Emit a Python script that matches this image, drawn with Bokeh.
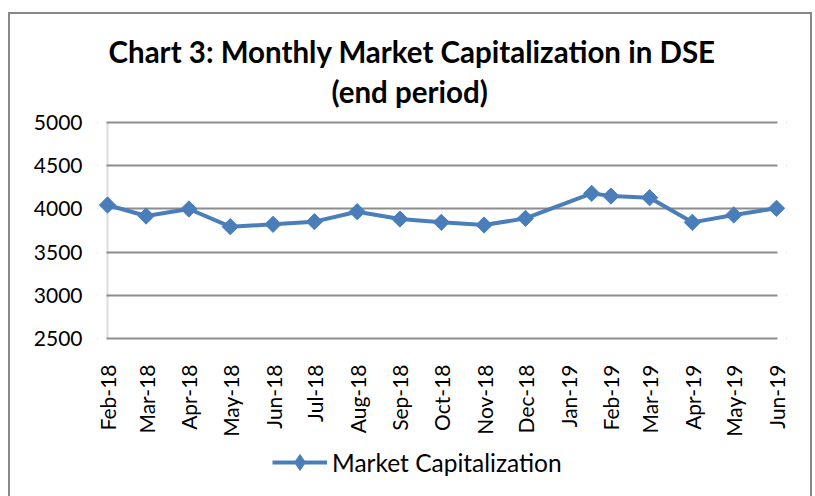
from math import pi
import pandas as pd
from bokeh.plotting import figure
from bokeh.models import (ColumnDataSource, Range1d, FixedTicker, Legend, LegendItem,
                          Title, BoxAnnotation)
from bokeh.embed import file_html
from bokeh.resources import INLINE

# ---------------- data ----------------
period_end = ["2018-02-01", "2018-03-01", "2018-04-01", "2018-05-01", "2018-06-01",
              "2018-07-01", "2018-08-01", "2018-09-01", "2018-10-01", "2018-11-01",
              "2018-12-01", "2019-01-18", "2019-02-01", "2019-03-01", "2019-04-01",
              "2019-05-01", "2019-06-01"]
market_cap = [4044, 3917, 3998, 3794, 3821, 3852, 3967, 3882, 3844, 3813,
              3890, 4178, 4147, 4128, 3844, 3929, 4006]
tick_dates = ["2018-02-01", "2018-03-01", "2018-04-01", "2018-05-01", "2018-06-01",
              "2018-07-01", "2018-08-01", "2018-09-01", "2018-10-01", "2018-11-01",
              "2018-12-01", "2019-01-01", "2019-02-01", "2019-03-01", "2019-04-01",
              "2019-05-01", "2019-06-01"]
tick_labels = ["Feb-18", "Mar-18", "Apr-18", "May-18", "Jun-18", "Jul-18", "Aug-18",
               "Sep-18", "Oct-18", "Nov-18", "Dec-18", "Jan-19", "Feb-19", "Mar-19",
               "Apr-19", "May-19", "Jun-19"]
y_ticks = [2500, 3000, 3500, 4000, 4500, 5000]
series_name = "Market Capitalization"
title_line1 = "Chart 3: Monthly Market Capitalization in DSE"
title_line2 = "(end  period)"

# ---------------- derived ----------------
origin = pd.Timestamp(tick_dates[0])
x_days = [(pd.Timestamp(d) - origin).days for d in period_end]
tick_pos = [(pd.Timestamp(d) - origin).days for d in tick_dates]
x_first, x_last = tick_pos[0], tick_pos[-1]
y_min, y_max = y_ticks[0], y_ticks[-1]

FONT = "Lato"
BLUE = "#4A7EBB"
GRID = "#8C8C8C"

W, H = 815, 496
FL, FR, FT, FB = 97, 786, 119, 486          # frame edges (px)
DL, DR = 107, 776                            # data x span (px)
DT, DB = 121.6, 338.4                        # data y span (px)
px_per_day = (DR - DL) / (x_last - x_first)
x_start = x_first - (DL - FL) / px_per_day
x_end = x_last + (FR - DR) / px_per_day
px_per_unit = (DB - DT) / (y_max - y_min)
y_hi = y_max + (DT - FT) / px_per_unit
y_lo = y_min - (FB - DB) / px_per_unit

border_css = ("linear-gradient(#888,#888) 8px 12px / 2px 800px no-repeat, "
              "linear-gradient(#888,#888) 8px 12px / 804px 2px no-repeat, "
              "linear-gradient(#888,#888) 810px 12px / 2px 800px no-repeat, white")

p = figure(width=W, height=H, output_backend="svg", toolbar_location=None, tools="",
           x_range=Range1d(x_start, x_end), y_range=Range1d(y_lo, y_hi),
           min_border_left=FL, min_border_right=W - FR,
           min_border_top=FT, min_border_bottom=H - FB,
           title=title_line1, styles={"background": border_css})
p.outline_line_color = None
p.background_fill_color = "white"
p.border_fill_alpha = 0

# titles
p.title.align = "left"
p.title.offset = 11
p.title.standoff = -16
p.title.text_font = FONT
p.title.text_font_style = "bold"
p.title.text_font_size = "29.5px"
p.title.text_color = "black"
p.add_layout(Title(text=title_line2, align="left", offset=234, standoff=22,
                   text_font=FONT, text_font_style="bold", text_font_size="29.5px",
                   text_color="black"), "above")

# grid
p.xgrid.visible = False
p.ygrid.ticker = FixedTicker(ticks=y_ticks)
p.ygrid.grid_line_color = GRID
p.ygrid.grid_line_width = 2

# cover grid overhang outside the data span
p.add_layout(BoxAnnotation(right=x_first - 0.7, fill_color="white", fill_alpha=1,
                           line_alpha=0, level="underlay"))
p.add_layout(BoxAnnotation(left=x_last + 0.7, fill_color="white", fill_alpha=1,
                           line_alpha=0, level="underlay"))
# vertical axis line at the first date, spanning the value range
p.add_layout(BoxAnnotation(left=x_first, right=x_first, bottom=y_min, top=y_max,
                           fill_alpha=0, line_color=GRID, line_width=2,
                           level="underlay"))

# y axis labels
p.yaxis.ticker = FixedTicker(ticks=y_ticks)
p.yaxis.axis_line_color = None
p.yaxis.major_tick_line_color = None
p.yaxis.minor_tick_line_color = None
p.yaxis.major_tick_out = 0
p.yaxis.major_tick_in = 0
p.yaxis.major_label_standoff = 15
p.yaxis.major_label_text_font = FONT
p.yaxis.major_label_text_font_size = "21px"
p.yaxis.major_label_text_color = "black"

# x axis: labels hang below the 2500 line
p.xaxis.ticker = FixedTicker(ticks=tick_pos)
p.xaxis.major_label_overrides = {float(t): l for t, l in zip(tick_pos, tick_labels)}
p.xaxis.major_label_orientation = pi / 2
p.xaxis.axis_line_color = None
p.xaxis.major_tick_line_color = None
p.xaxis.minor_tick_line_color = None
p.xaxis.major_tick_out = 0
p.xaxis.major_tick_in = 0
p.xaxis.major_label_standoff = int(364 - FB)
p.xaxis.major_label_text_font = FONT
p.xaxis.major_label_text_font_size = "21px"
p.xaxis.major_label_text_color = "black"

# data
src = ColumnDataSource(dict(x=x_days, y=market_cap))
line_r = p.line("x", "y", source=src, line_color=BLUE, line_width=4)
mark_r = p.scatter("x", "y", source=src, marker="square", size=11.5, angle=pi / 4,
                   fill_color=BLUE, line_color=BLUE)
# diamond used for the legend key
key_r = p.scatter("x", "y", source=src, marker="diamond", size=16,
                  fill_color=BLUE, line_color=BLUE, visible=False)

# legend
legend = Legend(items=[LegendItem(label=series_name, renderers=[line_r, key_r])],
                location=(272 - FL, FB - 482), orientation="horizontal",
                margin=0, padding=0, spacing=0, glyph_width=55, glyph_height=40,
                label_height=40, label_standoff=5,
                label_text_font=FONT, label_text_font_size="24.5px",
                label_text_color="black", border_line_color=None,
                background_fill_alpha=0)
p.add_layout(legend)

open("out.html", "w").write(file_html(p, INLINE))
